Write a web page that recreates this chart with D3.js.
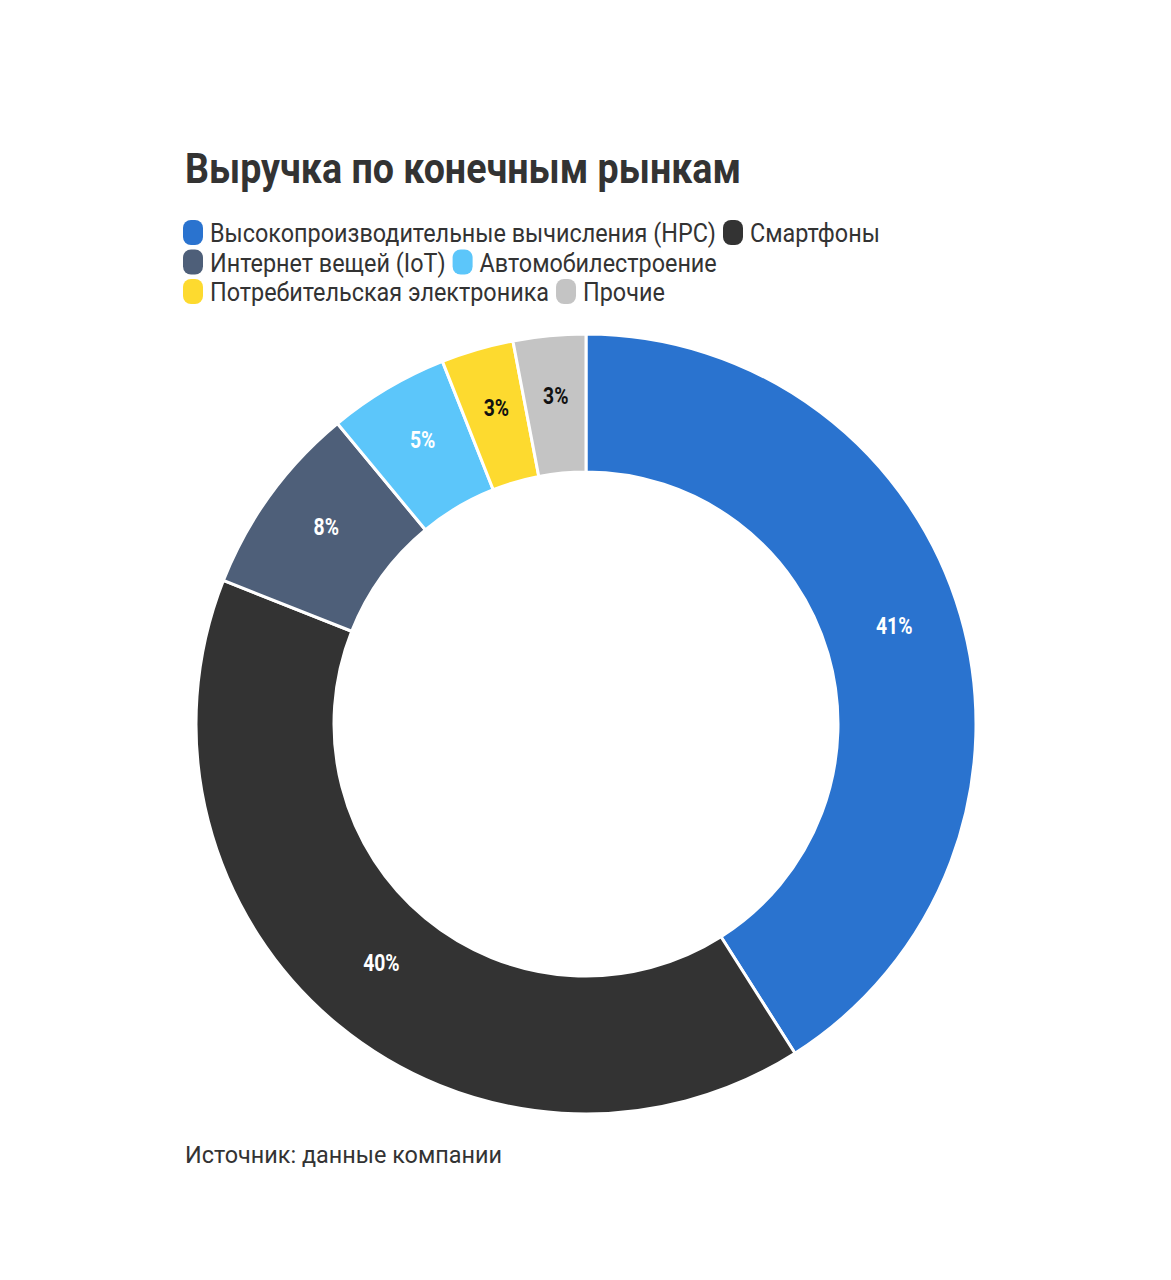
<!DOCTYPE html>
<html>
<head>
<meta charset="utf-8">
<script src="https://cdn.jsdelivr.net/npm/d3@7"></script>
<style>
  html, body { margin: 0; padding: 0; background: #ffffff; }
  svg { display: block; }
  text { font-family: Roboto, "Noto Sans", sans-serif; }
</style>
</head>
<body>
<svg id="chart" width="1171" height="1280"></svg>
<script>
const categories = [
  "Высокопроизводительные вычисления (HPC)",
  "Смартфоны",
  "Интернет вещей (IoT)",
  "Автомобилестроение",
  "Потребительская электроника",
  "Прочие"
];
const values = [41, 40, 8, 5, 3, 3];
const valueLabels = ["41%", "40%", "8%", "5%", "3%", "3%"];
const colors = ["#2a73cf", "#333333", "#4e5f79", "#5cc6fa", "#fdda2f", "#c4c4c4"];
const labelColors = ["#ffffff", "#ffffff", "#ffffff", "#ffffff", "#111111", "#111111"];
const titleText = "Выручка по конечным рынкам";
const sourceText = "Источник: данные компании";

const svg = d3.select("#chart");

// Title
const title = svg.append("text")
  .attr("x", 185).attr("y", 183)
  .attr("font-size", 42).attr("font-weight", 700)
  .attr("fill", "#333333")
  .text(titleText);
title.attr("textLength", 556).attr("lengthAdjust", "spacingAndGlyphs");

// Legend
const legendX = 183, legendMax = 976, rowH = 29.5, legendTop = 220;
const lg = svg.append("g");
const probe = lg.append("text").attr("font-size", 25).text(categories[0]);
const k = 506 / probe.node().getComputedTextLength();
probe.remove();

let cx = legendX, row = 0;
categories.forEach((c, i) => {
  const t = lg.append("text").attr("font-size", 25).attr("fill", "#333333").text(c);
  const w = t.node().getComputedTextLength() * k;
  const itemW = 20 + 7 + w;
  if (cx > legendX && cx + itemW > legendMax) { row++; cx = legendX; }
  const y0 = legendTop + row * rowH;
  lg.append("rect")
    .attr("x", cx).attr("y", y0).attr("width", 20).attr("height", 25)
    .attr("rx", 8).attr("ry", 8)
    .attr("fill", colors[i]);
  t.attr("x", cx + 27).attr("y", y0 + 22)
    .attr("textLength", w).attr("lengthAdjust", "spacingAndGlyphs");
  cx += itemW + 7;
});

// Donut
const cxC = 586, cyC = 724, rOuter = 390, rInner = 252;
const pie = d3.pie().sort(null).value(d => d);
const arcs = pie(values);
const arc = d3.arc().innerRadius(rInner).outerRadius(rOuter);
const g = svg.append("g").attr("transform", `translate(${cxC},${cyC})`);
g.selectAll("path.slice").data(arcs).enter().append("path")
  .attr("class", "slice")
  .attr("d", arc)
  .attr("fill", (d, i) => colors[i])
  .attr("stroke", "#ffffff")
  .attr("stroke-width", 3);

g.selectAll("text.lbl").data(arcs).enter().append("text")
  .attr("class", "lbl")
  .attr("x", d => arc.centroid(d)[0])
  .attr("y", d => arc.centroid(d)[1])
  .attr("text-anchor", "middle")
  .attr("font-size", 23).attr("font-weight", 700)
  .attr("fill", (d, i) => labelColors[i])
  .each(function(d, i) {
    const t = d3.select(this).text(valueLabels[i]);
    const w = this.getComputedTextLength() * 0.84;
    t.attr("textLength", w).attr("lengthAdjust", "spacingAndGlyphs");
  });

// Source
const src = svg.append("text")
  .attr("x", 185).attr("y", 1163)
  .attr("font-size", 24).attr("fill", "#333333")
  .text(sourceText);
src.attr("textLength", 317).attr("lengthAdjust", "spacingAndGlyphs");
</script>
</body>
</html>
